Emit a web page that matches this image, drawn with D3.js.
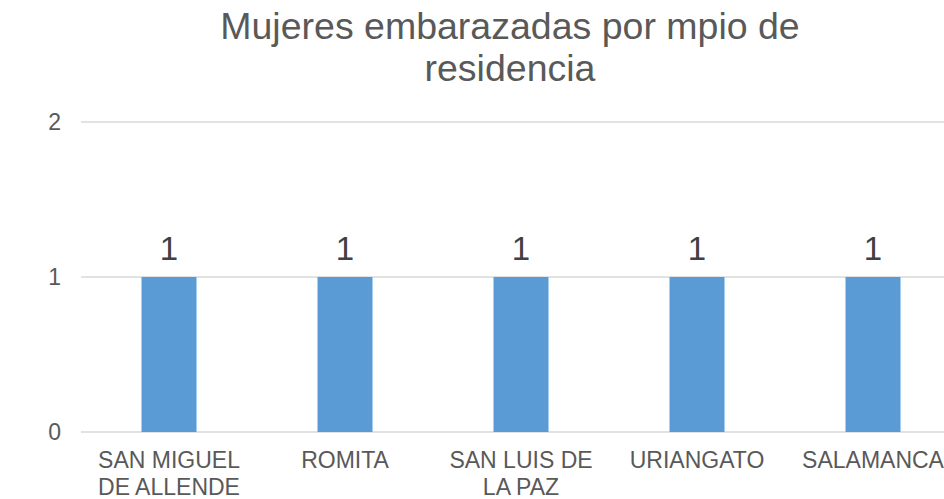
<!DOCTYPE html>
<html>
<head>
<meta charset="utf-8">
<script src="https://cdn.jsdelivr.net/npm/d3@7"></script>
<style>
  html, body { margin: 0; padding: 0; background: #ffffff; overflow: hidden; }
  svg { display: block; font-family: "Liberation Sans", Arial, sans-serif; }
</style>
</head>
<body>
<div id="chart"></div>
<script>
// chart data
const titleLines = ["Mujeres embarazadas por mpio de", "residencia"];
const municipios = ["SAN MIGUEL DE ALLENDE", "ROMITA", "SAN LUIS DE LA PAZ", "URIANGATO", "SALAMANCA"];
const mujeres = [1, 1, 1, 1, 1];
const yTicks = [0, 1, 2];

var width = 944;
var height = 499;
var margin = { top: 122, right: -17, bottom: 67, left: 81 };

var svg = d3.select("#chart")
    .append("svg")
    .attr("width", width)
    .attr("height", height);

// title
svg.append("text")
    .attr("x", 510)
    .attr("y", 39)
    .attr("text-anchor", "middle")
    .style("font-size", "37.5px")
    .style("fill", "#595959")
    .selectAll("tspan")
    .data(titleLines)
    .enter()
    .append("tspan")
    .attr("x", 510)
    .attr("dy", (d, i) => i === 0 ? 0 : 42)
    .text(d => d);

// scales
var x = d3.scaleBand()
    .domain(municipios)
    .range([margin.left, width - margin.right])
    .paddingInner(0.6875)
    .paddingOuter(0.34375);

var y = d3.scaleLinear()
    .domain([0, 2])
    .range([height - margin.bottom, margin.top]);

// gridlines
svg.append("g")
    .selectAll("line")
    .data(yTicks)
    .enter()
    .append("line")
    .attr("x1", margin.left)
    .attr("x2", width)
    .attr("y1", d => y(d))
    .attr("y2", d => y(d))
    .attr("stroke", "#d9d9d9")
    .attr("stroke-width", 1.5);

// y axis labels
var yAxis = d3.axisLeft(y).tickValues(yTicks).tickFormat(d3.format("d")).tickSize(0).tickPadding(20);
var yg = svg.append("g")
    .attr("transform", "translate(" + margin.left + ",0)")
    .call(yAxis);
yg.select(".domain").remove();
yg.selectAll("text")
    .style("font-size", "23px")
    .style("font-family", "'Liberation Sans', Arial, sans-serif")
    .style("fill", "#595959");

// bars
svg.append("g")
    .selectAll("rect")
    .data(municipios)
    .enter()
    .append("rect")
    .attr("x", d => x(d))
    .attr("width", x.bandwidth())
    .attr("y", (d, i) => y(mujeres[i]))
    .attr("height", (d, i) => y(0) - y(mujeres[i]))
    .attr("fill", "#5b9bd5");

// data labels
svg.append("g")
    .selectAll("text")
    .data(municipios)
    .enter()
    .append("text")
    .attr("x", d => x(d) + x.bandwidth() / 2)
    .attr("y", (d, i) => y(mujeres[i]) - 17)
    .attr("text-anchor", "middle")
    .style("font-size", "33px")
    .style("fill", "#404040")
    .text((d, i) => mujeres[i]);

// category labels, wrapped to band width
var step = x.step();
var measure = svg.append("text").style("font-size", "23px").attr("visibility", "hidden");
function wrapWords(label) {
    var words = label.split(" ");
    var lines = [];
    var line = [];
    words.forEach(w => {
        var test = line.concat([w]).join(" ");
        measure.text(test);
        if (line.length > 0 && measure.node().getComputedTextLength() > step - 8) {
            lines.push(line.join(" "));
            line = [w];
        } else {
            line.push(w);
        }
    });
    lines.push(line.join(" "));
    return lines;
}

var catLabels = svg.append("g")
    .selectAll("text")
    .data(municipios)
    .enter()
    .append("text")
    .attr("x", d => x(d) + x.bandwidth() / 2)
    .attr("y", 468)
    .attr("text-anchor", "middle")
    .style("font-size", "23px")
    .style("fill", "#595959");

catLabels.each(function (d) {
    var t = d3.select(this);
    wrapWords(d).forEach((ln, i) => {
        t.append("tspan")
            .attr("x", x(d) + x.bandwidth() / 2)
            .attr("dy", i === 0 ? 0 : 26.5)
            .text(ln);
    });
});
measure.remove();
</script>
</body>
</html>
